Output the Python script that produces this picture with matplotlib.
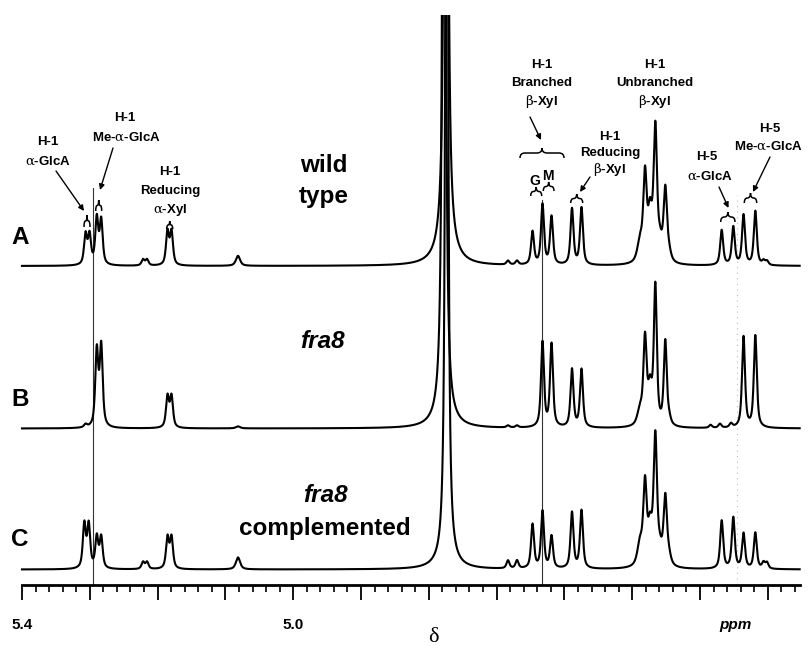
import numpy as np
import matplotlib
matplotlib.use('Agg')
import matplotlib.pyplot as plt
from matplotlib.path import Path
from matplotlib.patches import PathPatch
from matplotlib.transforms import Affine2D
from matplotlib import font_manager

# ---------------- data ----------------
# peak positions (ppm), heights (a.u.), half-widths (ppm) for each spectrum
ppm_A = [5.3063, 5.3004, 5.2897, 5.2832, 5.2215, 5.2156, 5.1854, 5.1795, 5.0814,
         4.6832, 4.6699, 4.6470, 4.6323, 4.6190, 4.5888, 4.5748,
         4.4885, 4.4811, 4.4737, 4.4659, 4.4590, 4.4512, 4.4457,
         4.3680, 4.3509, 4.3358, 4.3184, 4.3063, 4.3012]
int_A = [30, 29, 46, 44, 6, 6, 33, 33, 10,
         4, 4, 33, 60, 48, 56, 57,
         20, 85, 45, 132, 15, 72, 8,
         35, 38, 50, 54, 4, 4]
hw_A = [0.0026, 0.0026, 0.0026, 0.0026, 0.0026, 0.0026, 0.0026, 0.0026, 0.0037,
        0.0026, 0.0026, 0.0026, 0.0026, 0.0026, 0.0026, 0.0026,
        0.0045, 0.0030, 0.0035, 0.0030, 0.0035, 0.0030, 0.0035,
        0.0026, 0.0026, 0.0026, 0.0026, 0.0026, 0.0026]

ppm_B = [5.3063, 5.2897, 5.2832, 5.1854, 5.1795, 5.0814,
         4.6832, 4.6699, 4.6323, 4.6190, 4.5888, 4.5748,
         4.4885, 4.4811, 4.4737, 4.4659, 4.4512, 4.4457,
         4.3844, 4.3706, 4.3543, 4.3358, 4.3184]
int_B = [3, 76, 80, 31, 31, 2,
         2, 2, 85, 83, 58, 58,
         15, 85, 35, 138, 84, 6,
         3, 4, 4, 91, 92]
hw_B = [0.0026, 0.0026, 0.0026, 0.0026, 0.0026, 0.0037,
        0.0026, 0.0026, 0.0026, 0.0026, 0.0026, 0.0026,
        0.0045, 0.0028, 0.0035, 0.0026, 0.0026, 0.0030,
        0.0026, 0.0026, 0.0026, 0.0026, 0.0026]

ppm_C = [5.3081, 5.3016, 5.2897, 5.2832, 5.2215, 5.2156, 5.1854, 5.1795, 5.0814,
         4.6832, 4.6699, 4.6470, 4.6323, 4.6190, 4.5888, 4.5748,
         4.4885, 4.4811, 4.4737, 4.4659, 4.4590, 4.4512, 4.4457,
         4.3680, 4.3509, 4.3358, 4.3184, 4.3063, 4.3012]
int_C = [44, 43, 31, 31, 7, 7, 31, 31, 12,
         8, 8, 44, 57, 32, 56, 58,
         22, 80, 35, 128, 12, 68, 8,
         48, 51, 35, 36, 6, 6]
hw_C = hw_A

# residual water (HDO) line of each spectrum: sharp part and broad foot
hdo_ppm = [4.7746, 4.7776, 4.7736]
hdo_int = [2500, 2200, 1800]
hdo_hw = [0.0015, 0.0015, 0.0015]
hdo_foot_int = [18, 12, 7]
hdo_foot_hw = [0.014, 0.014, 0.016]

spectrum_names = ['A', 'B', 'C']
sample_labels = [['wild', 'type'], ['fra8'], ['fra8', 'complemented']]
tick_major = [5.4, 5.3, 5.2, 5.1, 5.0, 4.9, 4.8, 4.7, 4.6, 4.5, 4.4, 4.3]
tick_labels = ['5.4', '', '', '', '5.0', '', '', '', '', '', '', '']

# ---------------- figure / scales ----------------
names = {f.name for f in font_manager.fontManager.ttflist}
SANS = 'Liberation Sans' if 'Liberation Sans' in names else 'DejaVu Sans'
NARROW = 'Liberation Sans Narrow' if 'Liberation Sans Narrow' in names else SANS
SERIF = 'Liberation Serif' if 'Liberation Serif' in names else 'DejaVu Serif'
plt.rcParams['mathtext.fontset'] = 'custom'
plt.rcParams['mathtext.rm'] = 'DejaVu Serif'
plt.rcParams['mathtext.it'] = 'DejaVu Serif:italic'
plt.rcParams['mathtext.bf'] = 'DejaVu Serif:bold'

W, H = 809, 646
fig = plt.figure(figsize=(W / 100, H / 100), dpi=100)
TOP = 15
ax = fig.add_axes([0, 0, 1, (H - TOP) / H])
X0_PX, PX_PER_PPM = 22, 678.0
ax.set_xlim(5.4 + X0_PX / PX_PER_PPM, 5.4 - (W - X0_PX) / PX_PER_PPM)
ax.set_ylim(0, H - TOP)
px = Affine2D().scale(1 / W, -1 / H).translate(0, 1) + fig.transFigure


def yd(ypx):
    return H - ypx


x = np.linspace(5.4, 4.253, 40000)


def pv(xg, x0, h, w, eta=0.7):
    d = (xg - x0) / w
    return h * (eta / (1 + d * d) + (1 - eta) * np.exp(-np.log(2) * d * d))


def build(pp, ii, ww, k):
    s = np.zeros_like(x)
    for p0, h0, w0 in zip(pp, ii, ww):
        s += pv(x, p0, h0, w0)
    d = (x - hdo_ppm[k]) / hdo_hw[k]
    s += hdo_int[k] / (1 + d * d)
    d2 = (x - hdo_ppm[k]) / hdo_foot_hw[k]
    s += hdo_foot_int[k] / (1 + d2 * d2)
    return s


baselines_px = [266, 428.5, 569.5]
data_sets = [(ppm_A, int_A, hw_A), (ppm_B, int_B, hw_B), (ppm_C, int_C, hw_C)]
for k, (pp, ii, ww) in enumerate(data_sets):
    ax.plot(x, yd(baselines_px[k]) + build(pp, ii, ww, k), color='black', lw=1.5,
            solid_joinstyle='round', zorder=3)

# reference lines
ax.plot([5.4 - (93 - X0_PX) / PX_PER_PPM] * 2, [yd(585), yd(188)], color='#333333', lw=0.8, zorder=2)
ax.plot([5.4 - (542 - X0_PX) / PX_PER_PPM] * 2, [yd(585), yd(200)], color='#333333', lw=0.8, zorder=2)
ax.plot([5.4 - (737 - X0_PX) / PX_PER_PPM] * 2, [yd(590), yd(195)], color='#bbbbbb', lw=0.8,
        ls=(0, (1, 4)), zorder=1)

# axis
for s in ['top', 'left', 'right']:
    ax.spines[s].set_visible(False)
ax.spines['bottom'].set_position(('data', yd(585)))
ax.spines['bottom'].set_bounds(4.253, 5.4)
ax.spines['bottom'].set_linewidth(2)
ax.set_yticks([])
ax.set_xticks(tick_major)
ax.set_xticklabels(tick_labels, fontfamily=NARROW, fontweight='bold', fontsize=11)
ax.set_xticks(np.round(np.arange(4.26, 5.4, 0.02), 2), minor=True)
ax.tick_params(axis='x', which='major', direction='out', length=10.8, width=1.3, pad=13)
ax.tick_params(axis='x', which='minor', direction='out', length=5, width=1.2)
ax.text(735, 625, 'ppm', transform=px, ha='center', va='center', fontfamily=NARROW,
        fontweight='bold', fontstyle='italic', fontsize=11)
ax.text(433, 637, 'δ', transform=px, ha='center', va='center', fontfamily=SERIF, fontsize=16)

# panel letters and sample names
for name, ypx in zip(spectrum_names, [237, 400, 539]):
    ax.text(20, ypx, name, transform=px, ha='center', va='center', fontfamily=SANS,
            fontweight='bold', fontsize=17.5)
label_y = [[165, 196], [342], [495, 528]]
label_x = [324, 322, 325]
for k, lines in enumerate(sample_labels):
    for s, ypx in zip(lines, label_y[k]):
        ax.text(label_x[k], ypx, s, transform=px, ha='center', va='center', fontfamily=SANS,
                fontweight='bold', fontsize=17.5, fontstyle='italic' if s == 'fra8' else 'normal')

# annotations
AL = r'$\mathrm{α}$'
BE = r'$\mathrm{β}$'
ann = [((48, 142), 'H-1'), ((48, 161), AL + '-GlcA'),
       ((125, 118), 'H-1'), ((126, 137), 'Me-' + AL + '-GlcA'),
       ((170, 172), 'H-1'), ((170, 191), 'Reducing'), ((170, 210), AL + '-Xyl'),
       ((542, 65), 'H-1'), ((542, 83), 'Branched'), ((542, 102), BE + '-Xyl'),
       ((610, 137), 'H-1'), ((610, 153), 'Reducing'), ((610, 169), BE + '-Xyl'),
       ((655, 65), 'H-1'), ((655, 83), 'Unbranched'), ((655, 102), BE + '-Xyl'),
       ((707, 157), 'H-5'), ((710, 176), AL + '-GlcA'),
       ((770, 129), 'H-5'), ((768, 146), 'Me-' + AL + '-GlcA')]
for (xx, yy), s in ann:
    ax.text(xx, yy, s, transform=px, ha='center', va='center', fontfamily=SANS,
            fontweight='bold', fontsize=9.5)
for (xx, yy), s in [((535, 181), 'G'), ((548, 176), 'M')]:
    ax.text(xx, yy, s, transform=px, ha='center', va='center', fontfamily=SANS,
            fontweight='bold', fontsize=10)

arrows = [((56, 171), (84, 211)), ((113, 148), (100, 190)), ((530, 117), (541, 140)),
          ((590, 177), (580, 192)), ((719, 187), (728.5, 208)), ((770, 157), (753, 192))]
for (x1, y1), (x2, y2) in arrows:
    ax.annotate('', xy=(x2, y2), xytext=(x1, y1), xycoords=px, textcoords=px,
                arrowprops=dict(arrowstyle='-|>', lw=1.0, color='black', mutation_scale=8,
                                shrinkA=0, shrinkB=0))


def brace(x1, x2, ytip, yend):
    xc = (x1 + x2) / 2
    ym = (ytip + yend) / 2
    q = min((yend - ytip) / 2, (x2 - x1) / 4)
    verts = [(x1, yend), (x1, ym), (x1 + q, ym), (xc - q, ym), (xc, ym), (xc, ytip),
             (xc, ym), (xc + q, ym), (x2 - q, ym), (x2, ym), (x2, yend)]
    codes = [Path.MOVETO, Path.CURVE3, Path.CURVE3, Path.LINETO, Path.CURVE3, Path.CURVE3,
             Path.CURVE3, Path.CURVE3, Path.LINETO, Path.CURVE3, Path.CURVE3]
    ax.add_patch(PathPatch(Path(verts, codes), transform=px, fill=False, lw=1.1,
                           edgecolor='black', clip_on=False))


braces = [(84, 90, 215, 227), (95.7, 101.7, 200, 211), (166.7, 172.7, 221, 229),
          (520, 564, 148, 158), (530.7, 541.7, 187, 196), (543.3, 554, 182, 191),
          (570.7, 582.7, 194, 203), (720.7, 735, 212, 222), (744.3, 756.7, 193, 203)]
for b in braces:
    brace(*b)

fig.savefig('out.png', dpi=100, facecolor='white')
